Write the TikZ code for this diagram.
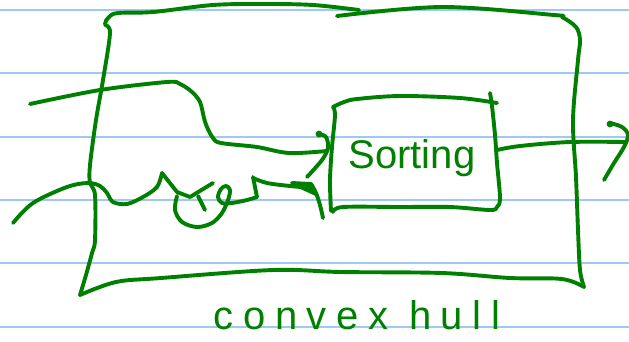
\documentclass[tikz,border=0pt]{standalone}
\usepackage{fontspec}
\setmainfont{Liberation Sans}
\newfontfamily\spacedfont[LetterSpace=24]{Liberation Sans}
\definecolor{inkgreen}{RGB}{0,128,0}
\definecolor{rulecolor}{RGB}{160,200,245}
\tikzset{
  pen/.style={draw=inkgreen, line width=3.9pt, line cap=round, line join=round},
  ruleline/.style={draw=rulecolor, line width=1.6pt},
  handtext/.style={text=inkgreen, inner sep=0pt, anchor=base},
  sm/.style={smooth, tension=0.55}
}
\begin{document}
\begin{tikzpicture}[x=1pt,y=-1pt]
\useasboundingbox (0,0) rectangle (629,341);
\fill[white] (0,0) rectangle (629,341);
% ruled paper
\foreach \yy in {10,73,137,200,263,327} \draw[ruleline] (0,\yy) -- (629,\yy);

% outer box (convex hull)
\draw[pen] plot[sm] coordinates {(359,10) (313,5) (265,4) (213,5) (153,12) (118,13) (109,17) (105,24) (110,33) (103,80) (96,120) (90,165) (90,183) (95,195) (95,240) (92,253) (86,275) (80,295)};
\draw[pen] plot[sm] coordinates {(80,295) (116,282) (161,278) (273,270) (341,272) (442,273) (510,278) (562,279) (584,287)};
\draw[pen] plot[sm] coordinates {(584,287) (580,270) (578,230) (576,177) (573,120) (578,60) (580,40) (576,27) (562,17) (554,15) (442,7) (337,16)};

% inner box (sorting)
\draw[pen] plot[sm] coordinates {(331,211) (330,180) (332,147) (335,115) (333,107)};
\draw[pen] plot[sm] coordinates {(333,107) (344,102) (357,99) (400,96) (460,98) (497,103)};
\draw[pen] plot[sm] coordinates {(490,93) (492,106) (495,135) (497,163) (500,198) (497,207) (490,210) (450,207) (400,207) (343,207) (333,212)};
\node[handtext, font=\fontsize{40}{48}\selectfont] (sorting) at (412,168) {Sorting};

% upper input arrow
\draw[pen] plot[sm] coordinates {(30,104) (100,90) (167,82) (180,84) (192,92) (200,102) (204,118) (207,127) (213,138) (221,143) (257,147) (289,153) (327,151)};
\draw[pen] plot[sm] coordinates {(319,134) (326,137) (328,148) (322,160) (307,177)};
\fill[inkgreen] (319,134) circle (3.4);

% lower input scribble and arrow
\draw[pen] plot[sm] coordinates {(13,223) (33,203) (67,187) (88,183) (100,186) (107,193) (113,202) (127,204) (143,197) (157,187) (162,173)};
\draw[pen] (162,173) -- (177,192) -- (190,197) -- (213,183);
\draw[pen] (198,196) -- (205,210);
\draw[pen] plot[sm] coordinates {(177,196) (175,210) (182,222) (197,227) (212,223) (222,213) (228,200) (230,190) (226,186) (221,189) (218,197) (222,203) (232,203) (247,200) (257,197)};
\draw[pen] (257,197) -- (253,177);
\draw[pen] plot[sm] coordinates {(253,178) (267,183) (290,186) (313,188)};
\filldraw[pen, fill=inkgreen] (292,183) -- (311,184) -- (316,194) -- cycle;
\draw[pen] plot[sm] coordinates {(311,184) (316,193) (320,205) (323,218)};

% output arrow
\draw[pen] plot[sm] coordinates {(497,150) (520,146) (570,142) (626,142)};
\draw[pen] plot[sm] coordinates {(610,123) (622,127) (628,135) (624,147) (614,163) (604,180)};
\fill[inkgreen] (610,124) circle (3.4);

% label
\node[handtext, font=\spacedfont\fontsize{40}{48}\selectfont] (hull) at (357,329) {convex hull};
\end{tikzpicture}
\end{document}
